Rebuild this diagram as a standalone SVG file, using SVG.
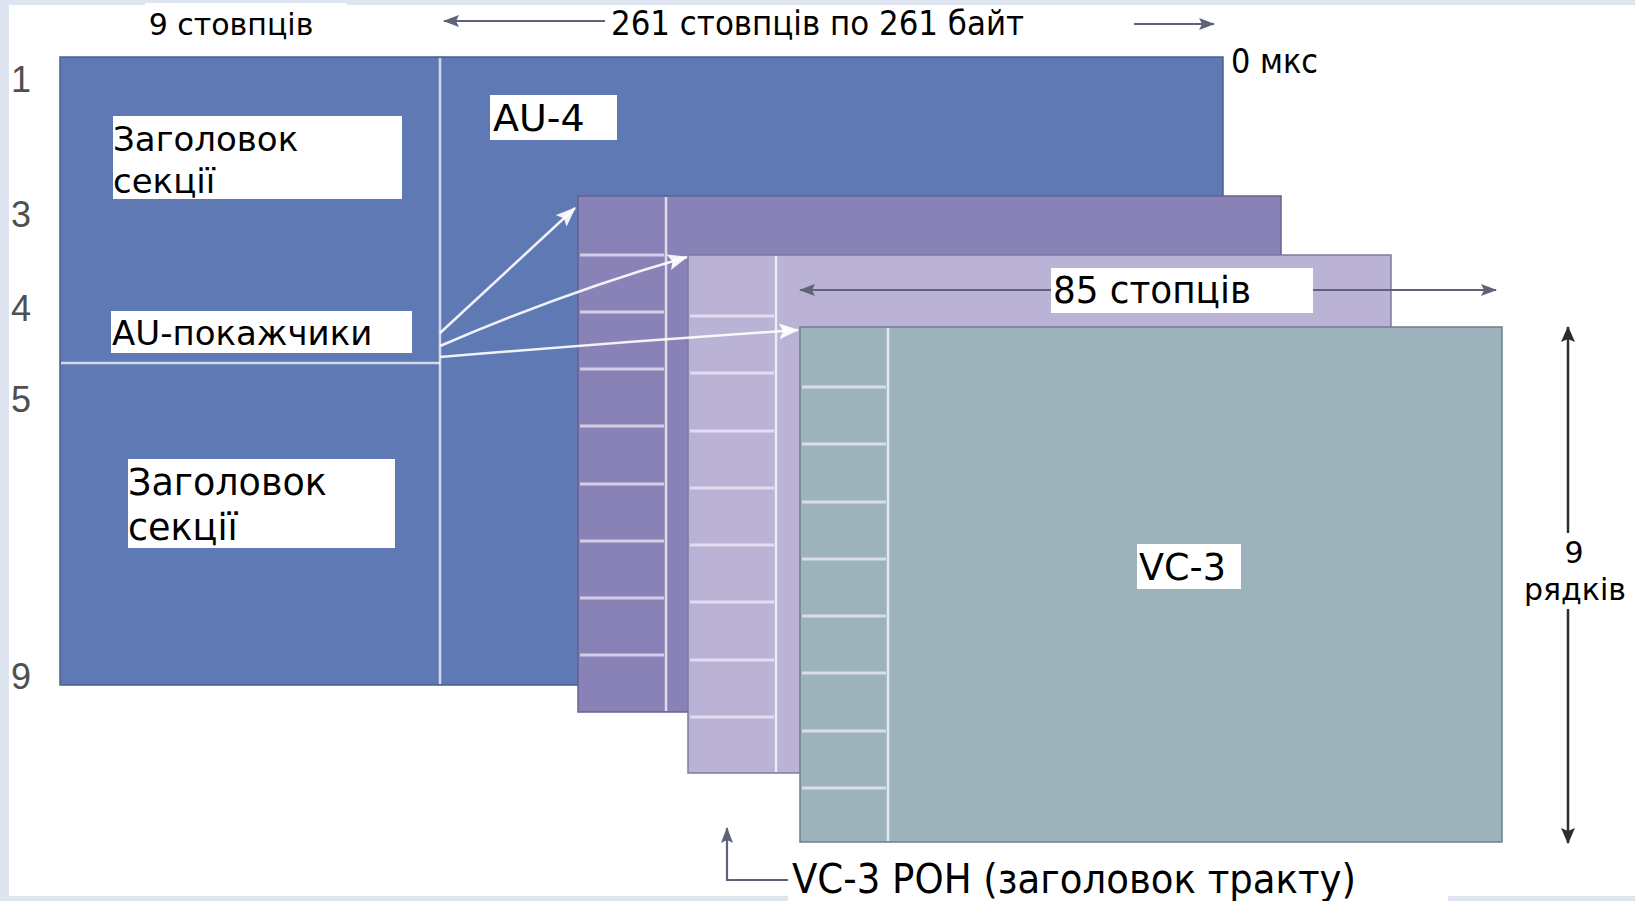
<svg xmlns="http://www.w3.org/2000/svg" width="1635" height="901" viewBox="0 0 1635 901">
<style>
.strip{fill:#dee5f0}
.wbox{fill:#ffffff}
.sans{font-family:"DejaVu Sans","Noto Sans",sans-serif;fill:#000}
.cond{font-family:"DejaVu Sans Condensed","DejaVu Sans",sans-serif;font-stretch:condensed;fill:#000}
.rownum{font-family:"Liberation Sans",Arial,sans-serif;font-size:36px;fill:#4f4f4f}
.wl{stroke:#ffffff;stroke-opacity:0.72;stroke-width:2.5;fill:none}
.cl{stroke:#f4f0ff;stroke-opacity:0.7;stroke-width:3;fill:none}
.dark{stroke:#5f6378;stroke-width:2.2;fill:none}
.black{stroke:#2e2e2e;stroke-width:2.5;fill:none}
.warr{stroke:#ffffff;stroke-opacity:0.9;stroke-width:2.5;fill:none}
</style>
<defs>
<marker id="ahD" markerUnits="userSpaceOnUse" markerWidth="16" markerHeight="12" viewBox="0 0 16 12" refX="15" refY="6" orient="auto-start-reverse">
<path d="M0,0 L16,6 L0,12 L3,6 z" fill="#5f6378"/>
</marker>
<marker id="ahK" markerUnits="userSpaceOnUse" markerWidth="16" markerHeight="14" viewBox="0 0 16 14" refX="15" refY="7" orient="auto-start-reverse">
<path d="M0,0 L16,7 L0,14 L3,7 z" fill="#2e2e2e"/>
</marker>
<marker id="ahW" markerUnits="userSpaceOnUse" markerWidth="20" markerHeight="16" viewBox="0 0 20 16" refX="19" refY="8" orient="auto">
<path d="M0,0 L20,8 L0,16 L4,8 z" fill="#ffffff" fill-opacity="0.92"/>
</marker>
</defs>

<g id="frame">
<rect x="0" y="0" width="1635" height="901" fill="#ffffff"/>
<rect class="strip" x="0" y="0" width="1635" height="5"/>
<rect class="strip" x="0" y="0" width="9" height="901"/>
<rect class="strip" x="0" y="896" width="1635" height="5"/>
</g>

<g id="row-numbers">
<text class="rownum" x="11" y="92">1</text>
<text class="rownum" x="11" y="227">3</text>
<text class="rownum" x="11" y="321">4</text>
<text class="rownum" x="11" y="412">5</text>
<text class="rownum" x="11" y="689">9</text>
</g>

<g id="stm-frame">
<rect x="60" y="57" width="1163" height="628" fill="#5f79b4" stroke="#4c5f8e" stroke-width="1.5"/>
<line class="wl" x1="440" y1="58" x2="440" y2="684"/>
<line class="wl" x1="61" y1="363" x2="440" y2="363"/>
</g>

<g id="vc-layer-1">
<rect x="578" y="196" width="703" height="516" fill="#8982b6" stroke="#66628f" stroke-width="1.5"/>
<line class="wl" x1="666" y1="197" x2="666" y2="711"/>
<path class="cl" d="M580,255H664M580,312H664M580,369H664M580,426H664M580,484H664M580,541H664M580,598H664M580,655H664"/>
</g>

<g id="vc-layer-2">
<rect x="688" y="255" width="703" height="518" fill="#bbb3d6" stroke="#7d7aa0" stroke-width="1.5"/>
<line class="wl" x1="776" y1="256" x2="776" y2="772"/>
<path class="cl" d="M690,316H774M690,373H774M690,431H774M690,488H774M690,545H774M690,602H774M690,660H774M690,717H774"/>
</g>

<g id="vc3">
<rect x="800" y="327" width="702" height="515" fill="#9cb3bb" stroke="#6f7f8e" stroke-width="1.5"/>
<line class="wl" x1="888" y1="328" x2="888" y2="841"/>
<path class="cl" d="M802,387H886M802,444H886M802,502H886M802,559H886M802,616H886M802,673H886M802,731H886M802,788H886"/>
</g>

<g id="connectors">
<line class="dark" x1="605" y1="21" x2="444" y2="21" marker-end="url(#ahD)"/>
<line class="dark" x1="1134" y1="24" x2="1214" y2="24" marker-end="url(#ahD)"/>
<line class="dark" x1="800" y1="290" x2="1496" y2="290" marker-start="url(#ahD)" marker-end="url(#ahD)"/>
<line class="black" x1="1568" y1="327" x2="1568" y2="843" marker-start="url(#ahK)" marker-end="url(#ahK)"/>
<path class="dark" d="M790,880 H727 V828" marker-end="url(#ahD)"/>
<path class="warr" d="M440,333 L575,208" marker-end="url(#ahW)"/>
<path class="warr" d="M440,346 Q565,292 687,257" marker-end="url(#ahW)"/>
<path class="warr" d="M440,357 Q620,342 798,330" marker-end="url(#ahW)"/>
</g>

<g id="label-9-columns">
<rect class="wbox" x="145" y="3" width="202" height="40"/>
<text class="sans" x="231" y="35" font-size="30" text-anchor="middle">9 стовпців</text>
</g>

<g id="label-261">
<text class="cond" x="611" y="35" font-size="33" textLength="413" lengthAdjust="spacingAndGlyphs">261 стовпців по 261 байт</text>
</g>

<g id="label-0us">
<text class="cond" x="1231" y="73" font-size="34" textLength="87" lengthAdjust="spacingAndGlyphs">0 мкс</text>
</g>

<g id="label-rsoh">
<rect class="wbox" x="113" y="116" width="289" height="83"/>
<text class="sans" font-size="34"><tspan x="113" y="151">Заголовок</tspan><tspan x="113" y="193">секції</tspan></text>
</g>

<g id="label-au4">
<rect class="wbox" x="490" y="95" width="127" height="45"/>
<text class="sans" x="493" y="131" font-size="38">AU-4</text>
</g>

<g id="label-au-pointers">
<rect class="wbox" x="111" y="311" width="301" height="42"/>
<text class="sans" x="112" y="345" font-size="34">AU-покажчики</text>
</g>

<g id="label-msoh">
<rect class="wbox" x="128" y="459" width="267" height="89"/>
<text class="sans" font-size="36.5"><tspan x="128" y="495">Заголовок</tspan><tspan x="128" y="540">секції</tspan></text>
</g>

<g id="label-85">
<rect class="wbox" x="1051" y="268" width="262" height="45"/>
<text class="cond" x="1053" y="303" font-size="38" textLength="198" lengthAdjust="spacingAndGlyphs">85 стопців</text>
</g>

<g id="label-vc3">
<rect class="wbox" x="1137" y="544" width="104" height="45"/>
<text class="sans" x="1139" y="580" font-size="36.5">VC-3</text>
</g>

<g id="label-9-rows">
<rect class="wbox" x="1503" y="533" width="132" height="76"/>
<text class="sans" font-size="30" text-anchor="middle"><tspan x="1574" y="563">9</tspan><tspan x="1575" y="600">рядків</tspan></text>
</g>

<g id="label-vc3-poh">
<rect class="wbox" x="788" y="858" width="660" height="43"/>
<text class="cond" x="792" y="893" font-size="41" textLength="564" lengthAdjust="spacingAndGlyphs">VC-3 POH (заголовок тракту)</text>
</g>
</svg>
